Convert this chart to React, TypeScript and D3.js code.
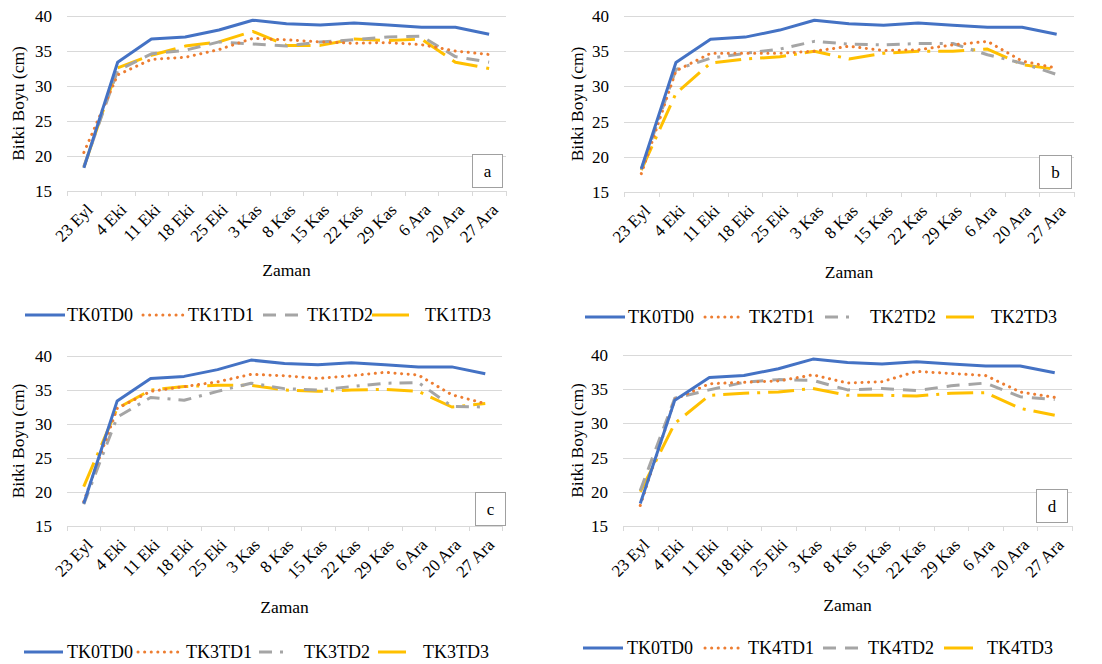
import React, { useRef, useEffect } from "react";
import * as d3 from "d3";

const DATES = ["23 Eyl", "4 Eki", "11 Eki", "18 Eki", "25 Eki", "3 Kas", "8 Kas", "15 Kas", "22 Kas", "29 Kas", "6 Ara", "20 Ara", "27 Ara"];
const Y_TICKS = [15, 20, 25, 30, 35, 40];

// control, same in every panel
const tk0td0 = [18.3, 33.4, 36.7, 37.0, 38.0, 39.4, 38.9, 38.7, 39.0, 38.7, 38.4, 38.4, 37.4];

const tk1td1 = [20.5, 31.6, 33.8, 34.1, 35.2, 36.8, 36.6, 36.3, 36.1, 36.2, 35.9, 35.0, 34.5];
const tk1td2 = [18.5, 32.2, 34.6, 35.1, 36.3, 36.0, 35.7, 36.3, 36.6, 37.0, 37.1, 34.2, 33.4];
const tk1td3 = [18.4, 32.6, 34.4, 35.7, 36.3, 37.8, 35.8, 35.8, 36.7, 36.5, 36.7, 33.4, 32.5];

const tk2td1 = [17.6, 32.2, 34.7, 34.7, 34.7, 35.0, 35.7, 35.1, 35.2, 35.9, 36.4, 33.6, 32.6];
const tk2td2 = [18.2, 32.4, 34.0, 34.7, 35.3, 36.4, 36.0, 35.9, 36.1, 36.1, 34.5, 33.3, 31.7];
const tk2td3 = [18.1, 29.0, 33.3, 33.9, 34.2, 35.0, 33.9, 34.7, 35.0, 35.0, 35.3, 33.1, 32.4];

const tk3td1 = [18.6, 32.3, 34.8, 35.5, 36.2, 37.3, 37.1, 36.7, 37.1, 37.6, 37.2, 34.3, 33.0];
const tk3td2 = [18.2, 31.0, 33.9, 33.5, 34.8, 36.0, 35.2, 35.0, 35.5, 36.0, 36.1, 32.6, 32.5];
const tk3td3 = [20.8, 32.3, 35.0, 35.5, 35.7, 35.7, 35.0, 34.8, 35.0, 35.1, 34.8, 32.5, 33.0];

const tk4td1 = [18.0, 33.5, 35.8, 36.0, 36.2, 37.1, 35.9, 36.1, 37.6, 37.3, 37.0, 34.6, 33.8];
const tk4td2 = [20.2, 33.7, 34.9, 36.0, 36.4, 36.3, 34.9, 35.1, 34.8, 35.5, 35.9, 33.9, 33.5];
const tk4td3 = [20.0, 30.0, 34.1, 34.4, 34.6, 35.1, 34.1, 34.1, 34.0, 34.4, 34.5, 32.2, 31.2];

const BLUE = "#4472C4", ORANGE = "#ED7D31", GRAY = "#A5A5A5", YELLOW = "#FFC000";
const SOLID = "", DOT = "0.1 6.5", DASH = "13 9", DASH_DOT = "13 8 3 8", LONG_DASH = "26 9", LONG_DASH_DOT = "26 8 3 8";

const panels = [
  {
    tag: "a", left: 67, right: 506, top: 16, bottom: 191, titleX: 18, zamanY: 276, legY: 315,
    series: [
      { name: "TK0TD0", values: tk0td0, color: BLUE, dash: SOLID, lx: [25, 65], tx: 67 },
      { name: "TK1TD1", values: tk1td1, color: ORANGE, dash: DOT, lx: [143, 183], tx: 188 },
      { name: "TK1TD2", values: tk1td2, color: GRAY, dash: DASH, lx: [263, 302], tx: 307 },
      { name: "TK1TD3", values: tk1td3, color: YELLOW, dash: LONG_DASH, lx: [372, 409], tx: 425 },
    ],
    box: [472, 154, 30, 33],
  },
  {
    tag: "b", left: 624, right: 1074, top: 16, bottom: 192, titleX: 577, zamanY: 278, legY: 317,
    series: [
      { name: "TK0TD0", values: tk0td0, color: BLUE, dash: SOLID, lx: [585, 625], tx: 628 },
      { name: "TK2TD1", values: tk2td1, color: ORANGE, dash: DOT, lx: [705, 743], tx: 749 },
      { name: "TK2TD2", values: tk2td2, color: GRAY, dash: DASH_DOT, lx: [825, 856], tx: 870 },
      { name: "TK2TD3", values: tk2td3, color: YELLOW, dash: LONG_DASH_DOT, lx: [946, 974], tx: 991 },
    ],
    box: [1039, 155, 32, 33],
  },
  {
    tag: "c", left: 67, right: 502, top: 356, bottom: 526, titleX: 18, zamanY: 613, legY: 652,
    series: [
      { name: "TK0TD0", values: tk0td0, color: BLUE, dash: SOLID, lx: [24, 63], tx: 67 },
      { name: "TK3TD1", values: tk3td1, color: ORANGE, dash: DOT, lx: [138, 180], tx: 186 },
      { name: "TK3TD2", values: tk3td2, color: GRAY, dash: DASH_DOT, lx: [259, 290], tx: 304 },
      { name: "TK3TD3", values: tk3td3, color: YELLOW, dash: LONG_DASH_DOT, lx: [378, 406], tx: 423 },
    ],
    box: [475, 492, 30, 33],
  },
  {
    tag: "d", left: 623, right: 1072, top: 355, bottom: 526, titleX: 577, zamanY: 611, legY: 648,
    series: [
      { name: "TK0TD0", values: tk0td0, color: BLUE, dash: SOLID, lx: [583, 623], tx: 627 },
      { name: "TK4TD1", values: tk4td1, color: ORANGE, dash: DOT, lx: [705, 743], tx: 748 },
      { name: "TK4TD2", values: tk4td2, color: GRAY, dash: DASH, lx: [823, 862], tx: 868 },
      { name: "TK4TD3", values: tk4td3, color: YELLOW, dash: LONG_DASH_DOT, lx: [944, 973], tx: 987 },
    ],
    box: [1036, 489, 31, 33],
  },
];

const FONT = "Liberation Serif, DejaVu Serif, Times New Roman, serif";

export default function App() {
  const svgRef = useRef<SVGSVGElement>(null);

  useEffect(() => {
    const svg = d3.select(svgRef.current);
    svg.selectAll("*").remove();
    svg.append("rect").attr("width", 1102).attr("height", 664).attr("fill", "#fff");

    panels.forEach(p => {
      const g = svg.append("g").attr("font-family", FONT).attr("fill", "#000");

      const x = d3.scaleBand().domain(DATES).range([p.left, p.right]);
      const y = d3.scaleLinear().domain([15, 40]).range([p.bottom, p.top]);
      const cx = (d: string) => (x(d) as number) + x.bandwidth() / 2;

      // gridlines
      g.append("g")
        .selectAll("line")
        .data(Y_TICKS)
        .join("line")
        .attr("x1", p.left)
        .attr("x2", p.right)
        .attr("y1", d => Math.round(y(d)) + 0.5)
        .attr("y2", d => Math.round(y(d)) + 0.5)
        .attr("stroke", "#D9D9D9")
        .attr("stroke-width", 1);

      // category ticks on the axis
      const edges = DATES.map(d => x(d) as number).concat([p.right]);
      g.append("g")
        .selectAll("line")
        .data(edges)
        .join("line")
        .attr("x1", d => Math.round(d) + 0.5)
        .attr("x2", d => Math.round(d) + 0.5)
        .attr("y1", y(15))
        .attr("y2", y(15) + 5)
        .attr("stroke", "#D9D9D9");

      // y tick labels
      g.append("g")
        .selectAll("text")
        .data(Y_TICKS)
        .join("text")
        .attr("x", p.left - 15)
        .attr("y", d => y(d))
        .attr("dy", "0.35em")
        .attr("text-anchor", "end")
        .attr("font-family", FONT)
        .attr("font-size", 17)
        .text(d => d);

      // x tick labels, top-right corner of rotated box sits under the category centre
      g.append("g")
        .selectAll("text")
        .data(DATES)
        .join("text")
        .attr("transform", d => `translate(${cx(d) + 10},${y(15) + 20}) rotate(-45)`)
        .attr("text-anchor", "end")
        .attr("font-family", FONT)
        .attr("font-size", 17)
        .text(d => d);

      // axis titles
      g.append("text")
        .attr("transform", `translate(${p.titleX},${(p.top + p.bottom) / 2}) rotate(-90)`)
        .attr("text-anchor", "middle")
        .attr("dominant-baseline", "central")
        .attr("font-family", FONT)
        .attr("font-size", 17.5)
        .text("Bitki Boyu (cm)");

      g.append("text")
        .attr("x", (p.left + p.right) / 2)
        .attr("y", p.zamanY)
        .attr("text-anchor", "middle")
        .attr("font-family", FONT)
        .attr("font-size", 17.5)
        .text("Zaman");

      // lines
      const line = d3.line<number>()
        .x((_, i) => cx(DATES[i]))
        .y(v => y(v));

      [...p.series].reverse().forEach(s => {
        g.append("path")
          .attr("d", line(s.values))
          .attr("fill", "none")
          .attr("stroke", s.color)
          .attr("stroke-width", 3)
          .attr("stroke-linejoin", "round")
          .attr("stroke-linecap", s.dash === DOT ? "round" : "butt")
          .attr("stroke-dasharray", s.dash || null);
      });

      // panel letter box
      const [bx, by, bw, bh] = p.box;
      g.append("rect")
        .attr("x", bx + 0.5).attr("y", by + 0.5)
        .attr("width", bw).attr("height", bh)
        .attr("fill", "#fff")
        .attr("stroke", "#A0A0A0");
      g.append("text")
        .attr("x", bx + bw / 2 + 0.5)
        .attr("y", by + bh / 2 + 1)
        .attr("text-anchor", "middle")
        .attr("dominant-baseline", "central")
        .attr("font-family", FONT)
        .attr("font-size", 17)
        .text(p.tag);

      // legend
      p.series.forEach(s => {
        const isYellow = s.color === YELLOW;
        g.append("line")
          .attr("x1", s.lx[0]).attr("x2", s.lx[1])
          .attr("y1", p.legY).attr("y2", p.legY)
          .attr("stroke", s.color)
          .attr("stroke-width", 3)
          .attr("stroke-linecap", s.dash === DOT ? "round" : "butt")
          .attr("stroke-dasharray", isYellow ? null : (s.dash || null));
        g.append("text")
          .attr("x", s.tx)
          .attr("y", p.legY)
          .attr("dy", "0.35em")
          .attr("font-family", FONT)
          .attr("font-size", 18)
          .text(s.name);
      });
    });
  }, []);

  return (
    <svg
      ref={svgRef}
      width={1102}
      height={664}
      style={{ position: "absolute", left: 0, top: 0, display: "block" }}
    />
  );
}
